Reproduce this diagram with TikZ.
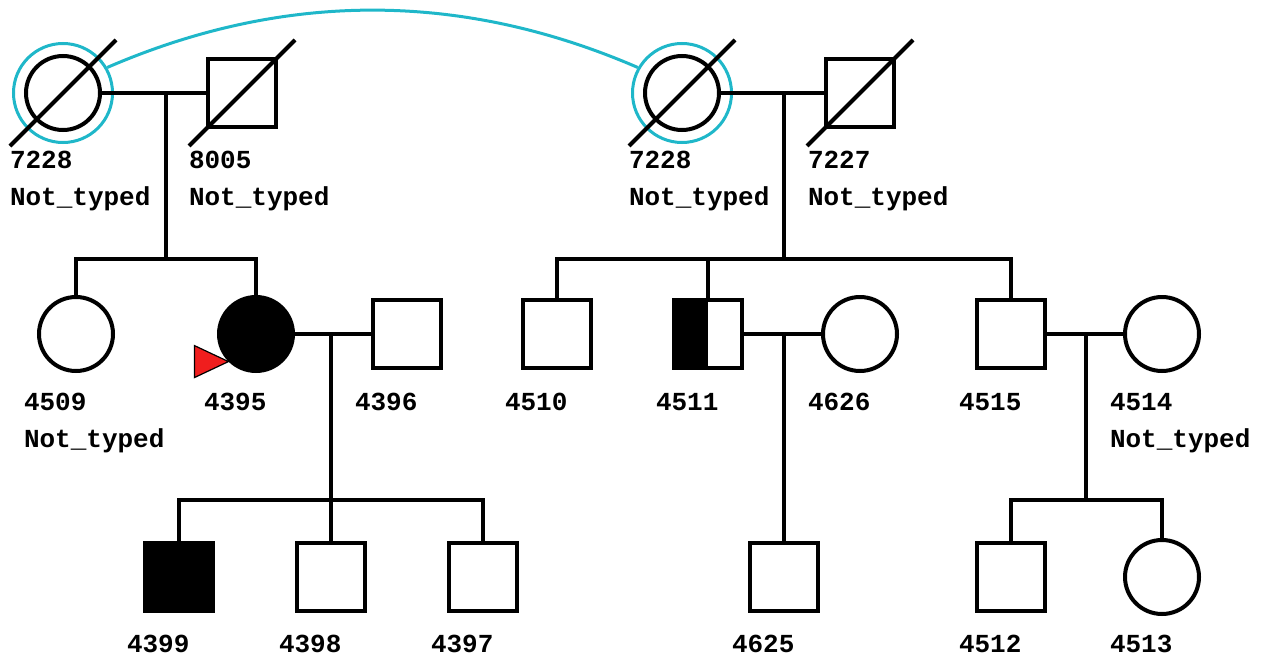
\documentclass[tikz,border=0pt]{standalone}
\usepackage{fontspec}
\setmonofont{Liberation Mono}
\usetikzlibrary{calc}
\definecolor{cyring}{RGB}{31,183,201}
\definecolor{probred}{RGB}{240,30,30}
\begin{document}
\begin{tikzpicture}[x=1pt,y=-1pt,line width=4pt,
  fem/.style={circle,draw,minimum size=74pt,inner sep=0pt,fill=white},
  mal/.style={rectangle,draw,minimum size=68pt,inner sep=0pt,fill=white},
  aff/.style={fill=black},
  halfaff/.style={path picture={\fill[black] (path picture bounding box.south west) rectangle (path picture bounding box.north);}},
  ring/.style={circle,draw=cyring,line width=3pt,minimum size=99pt,inner sep=0pt},
  lbl/.style={font=\ttfamily\bfseries\fontsize{26}{30}\selectfont,anchor=base west,inner sep=0pt},
  dead/.style={line width=4pt}]
\useasboundingbox (0,0) rectangle (1269,661);
% generation I
\node[ring] (r1) at (63,93) {};
\node[ring] (r2) at (682,93) {};
\node[fem] (f7228a) at (63,93) {};
\node[mal] (m8005) at (242,93) {};
\node[fem] (f7228b) at (682,93) {};
\node[mal] (m7227) at (860,93) {};
% generation II
\node[fem] (f4509) at (76,334) {};
\node[fem,aff] (f4395) at (256,334) {};
\node[mal] (m4396) at (407,334) {};
\node[mal] (m4510) at (557,334) {};
\node[mal,halfaff] (m4511) at (708,334) {};
\node[fem] (f4626) at (860,334) {};
\node[mal] (m4515) at (1011,334) {};
\node[fem] (f4514) at (1162,334) {};
% generation III
\node[mal,aff] (m4399) at (179,577) {};
\node[mal] (m4398) at (331,577) {};
\node[mal] (m4397) at (483,577) {};
\node[mal] (m4625) at (784,577) {};
\node[mal] (m4512) at (1011,577) {};
\node[fem] (f4513) at (1162,577) {};
% junction coordinates
\coordinate (u1) at (166,93);  \coordinate (s1) at (166,259);
\coordinate (u2) at (784,93);  \coordinate (s2) at (784,259);
\coordinate (u3) at (331,334); \coordinate (s3) at (331,500);
\coordinate (u4) at (784,334);
\coordinate (u5) at (1086,334); \coordinate (s5) at (1086,500);
% duplicate link
\draw[cyring,line width=3pt] (r1.30) .. controls (284,-9) and (461,-9) .. (r2.150);
% family 1
\draw (f7228a.east) -- (m8005.west);
\draw (u1) -- (s1);
\draw (f4509.north) |- (s1);
\draw (f4395.north) |- (s1);
% family 2
\draw (f7228b.east) -- (m7227.west);
\draw (u2) -- (s2);
\draw (m4510.north) |- (s2);
\draw (m4511.north) |- (s2);
\draw (m4515.north) |- (s2);
% family 3
\draw (f4395.east) -- (m4396.west);
\draw (u3) -- (s3);
\draw (m4399.north) |- (s3);
\draw (m4398.north) |- (s3);
\draw (m4397.north) |- (s3);
% family 4
\draw (m4511.east) -- (f4626.west);
\draw (u4) -- (m4625.north);
% family 5
\draw (m4515.east) -- (f4514.west);
\draw (u5) -- (s5);
\draw (m4512.north) |- (s5);
\draw (f4513.north) |- (s5);
% deceased slashes
\foreach \n in {f7228a,m8005,f7228b,m7227}{
  \draw[dead] ($(\n.center)+(-53,53)$) -- ($(\n.center)+(53,-53)$);
}
% proband arrow
\coordinate (tip) at (f4395.south west);
\draw[line width=1.2pt,fill=probred,line join=miter] (tip) -- ($(tip)+(-34,-16)$) -- ($(tip)+(-34,16)$) -- cycle;
% labels
\node[lbl] (t7228a) at ($(f7228a.center)+(-55,75)$) {7228};
\node[lbl] (n7228a) at ($(f7228a.center)+(-55,112)$) {Not\_typed};
\node[lbl] (t8005) at ($(m8005.center)+(-55,75)$) {8005};
\node[lbl] (n8005) at ($(m8005.center)+(-55,112)$) {Not\_typed};
\node[lbl] (t7228b) at ($(f7228b.center)+(-55,75)$) {7228};
\node[lbl] (n7228b) at ($(f7228b.center)+(-55,112)$) {Not\_typed};
\node[lbl] (t7227) at ($(m7227.center)+(-54,75)$) {7227};
\node[lbl] (n7227) at ($(m7227.center)+(-54,112)$) {Not\_typed};
\node[lbl] (t4509) at ($(f4509.center)+(-54,76)$) {4509};
\node[lbl] (n4509) at ($(f4509.center)+(-54,113)$) {Not\_typed};
\node[lbl] (t4395) at ($(f4395.center)+(-54,76)$) {4395};
\node[lbl] (t4396) at ($(m4396.center)+(-54,76)$) {4396};
\node[lbl] (t4510) at ($(m4510.center)+(-54,76)$) {4510};
\node[lbl] (t4511) at ($(m4511.center)+(-54,76)$) {4511};
\node[lbl] (t4626) at ($(f4626.center)+(-54,76)$) {4626};
\node[lbl] (t4515) at ($(m4515.center)+(-54,76)$) {4515};
\node[lbl] (t4514) at ($(f4514.center)+(-54,76)$) {4514};
\node[lbl] (n4514) at ($(f4514.center)+(-54,113)$) {Not\_typed};
\node[lbl] (t4399) at ($(m4399.center)+(-54,75)$) {4399};
\node[lbl] (t4398) at ($(m4398.center)+(-54,75)$) {4398};
\node[lbl] (t4397) at ($(m4397.center)+(-54,75)$) {4397};
\node[lbl] (t4625) at ($(m4625.center)+(-54,75)$) {4625};
\node[lbl] (t4512) at ($(m4512.center)+(-54,75)$) {4512};
\node[lbl] (t4513) at ($(f4513.center)+(-54,75)$) {4513};
\end{tikzpicture}
\end{document}
